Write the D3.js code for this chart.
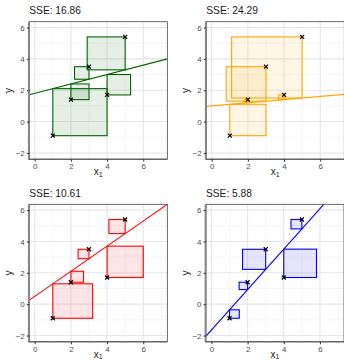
<!DOCTYPE html>
<html><head><meta charset="utf-8">
<script src="https://cdn.jsdelivr.net/npm/d3@7"></script>
<style>body{margin:0;background:#fff} svg{display:block}</style>
</head><body><svg id="c" width="344" height="360"></svg>
<script>
const xs = [1, 2, 3, 4, 5];
const ys = [-0.9, 1.4, 3.5, 1.7, 5.4];
const intercepts = [1.8, 1.0, 0.5, -1.65];
const slopes = [0.3, 0.1, 0.8, 1.29];
const sseLabels = ["SSE: 16.86", "SSE: 24.29", "SSE: 10.61", "SSE: 5.88"];
const colors = ["#006400", "#FFA500", "#FF0000", "#0000FF"];
const xTicks = [0, 2, 4, 6];
const yTicks = [-2, 0, 2, 4, 6];
const xMinor = [1, 3, 5, 7];
const yMinor = [-1, 1, 3, 5];

const panels = [
  {l: 29.3, t: 21.7},
  {l: 206.3, t: 21.7},
  {l: 29.3, t: 204.3},
  {l: 206.0, t: 204.3}
];
const W = 138, H = 137.5;
const svg = d3.select("#c");
const font = "Liberation Sans, Arial, Helvetica, sans-serif";

panels.forEach((p, i) => {
  const g = svg.append("g").attr("transform", `translate(${p.l},${p.t})`);
  const x = d3.scaleLinear().domain([-0.3, 7.33]).range([0, W]);
  const y = d3.scaleLinear().domain([-2.4, 6.37]).range([H, 0]);
  const clipId = "clip" + i;
  g.append("clipPath").attr("id", clipId).append("rect").attr("width", W).attr("height", H);

  // grid
  const grid = g.append("g");
  grid.selectAll(".mx").data(xMinor).join("line")
    .attr("x1", d => x(d)).attr("x2", d => x(d)).attr("y1", 0).attr("y2", H)
    .attr("stroke", "#f0f0f0").attr("stroke-width", 0.6);
  grid.selectAll(".my").data(yMinor).join("line")
    .attr("y1", d => y(d)).attr("y2", d => y(d)).attr("x1", 0).attr("x2", W)
    .attr("stroke", "#f0f0f0").attr("stroke-width", 0.6);
  grid.selectAll(".Mx").data(xTicks).join("line")
    .attr("x1", d => x(d)).attr("x2", d => x(d)).attr("y1", 0).attr("y2", H)
    .attr("stroke", "#e6e6e6").attr("stroke-width", 1.1);
  grid.selectAll(".My").data(yTicks).join("line")
    .attr("y1", d => y(d)).attr("y2", d => y(d)).attr("x1", 0).attr("x2", W)
    .attr("stroke", "#e6e6e6").attr("stroke-width", 1.1);

  const plot = g.append("g").attr("clip-path", `url(#${clipId})`);
  const a = intercepts[i], b = slopes[i];
  const pts = xs.map((xv, k) => {
    const pred = a + b * xv;
    const r = ys[k] - pred;
    return {xv, yv: ys[k], pred, r};
  });
  plot.selectAll("rect.sq").data(pts).join("rect")
    .attr("x", d => d.r > 0 ? x(d.xv - d.r) : x(d.xv))
    .attr("width", d => Math.abs(x(d.xv + Math.abs(d.r)) - x(d.xv)))
    .attr("y", d => y(Math.max(d.yv, d.pred)))
    .attr("height", d => Math.abs(y(d.yv) - y(d.pred)))
    .attr("fill", colors[i]).attr("fill-opacity", 0.1)
    .attr("stroke", colors[i]).attr("stroke-width", 1.1);

  const xd = x.domain();
  plot.append("line")
    .attr("x1", x(xd[0])).attr("y1", y(a + b * xd[0]))
    .attr("x2", x(xd[1])).attr("y2", y(a + b * xd[1]))
    .attr("stroke", colors[i]).attr("stroke-width", 1.1);

  const s = 2;
  plot.selectAll("path.pt").data(pts).join("path")
    .attr("d", d => {
      const cx = x(d.xv), cy = y(d.yv);
      return `M${cx - s},${cy - s}L${cx + s},${cy + s}M${cx - s},${cy + s}L${cx + s},${cy - s}`;
    })
    .attr("stroke", "#000").attr("stroke-width", 1.2).attr("fill", "none");

  // border
  g.append("rect").attr("width", W).attr("height", H)
    .attr("fill", "none").attr("stroke", "#444").attr("stroke-width", 0.8);
  g.append("line").attr("x1", -0.5).attr("x2", -0.5).attr("y1", 0).attr("y2", H + 0.5)
    .attr("stroke", "#888").attr("stroke-width", 1.8);
  g.append("line").attr("x1", -0.5).attr("x2", W).attr("y1", H).attr("y2", H)
    .attr("stroke", "#555").attr("stroke-width", 1);

  // axes
  const xAxis = g.append("g").attr("transform", `translate(0,${H})`)
    .call(d3.axisBottom(x).tickValues(xTicks).tickSize(2.5).tickPadding(2).tickFormat(d3.format("d")));
  const yAxis = g.append("g")
    .call(d3.axisLeft(y).tickValues(yTicks).tickSize(2.5).tickPadding(2).tickFormat(d3.format("d")));
  [xAxis, yAxis].forEach(ax => {
    ax.select(".domain").remove();
    ax.selectAll(".tick line").attr("stroke", "#333");
    ax.selectAll(".tick text").attr("fill", "#4d4d4d").style("font-family", font).style("font-size", "8px");
  });

  // titles & labels
  g.append("text").attr("x", 0).attr("y", -7.5).text(sseLabels[i])
    .style("font-family", font).style("font-size", "10.2px").attr("fill", "#1a1a1a");
  const xl = g.append("text").attr("x", W / 2).attr("y", H + 15.8).attr("text-anchor", "middle")
    .style("font-family", font).style("font-size", "10px").attr("fill", "#1a1a1a");
  xl.append("tspan").text("x");
  xl.append("tspan").text("1").attr("dy", 1.8).style("font-size", "7px");
  g.append("text").attr("transform", `translate(-17.5,${H / 2}) rotate(-90)`)
    .attr("text-anchor", "middle").text("y")
    .style("font-family", font).style("font-size", "10px").attr("fill", "#1a1a1a");
});
</script></body></html>
